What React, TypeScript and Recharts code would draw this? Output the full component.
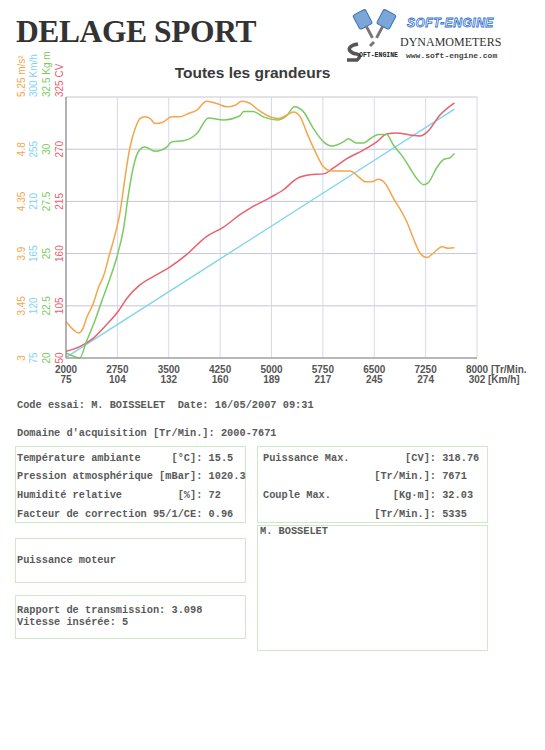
import React from "react";
import { CartesianGrid, Line, LineChart, XAxis, YAxis } from "recharts";

// rpm ticks along the bottom and the road speed printed under each one
const rpmTicks = [2000, 2750, 3500, 4250, 5000, 5750, 6500, 7250, 8000];
const speedTicks = [75, 104, 132, 160, 189, 217, 245, 274, 302];

// left scales (bottom to top)
const cvTicks = [50, 105, 160, 215, 270, 325];
const kgmTicks = [20, 22.5, 25, 27.5, 30, 32.5];
const kmhTicks = [75, 120, 165, 210, 255, 300];
const accTicks = [3, 3.45, 3.9, 4.35, 4.8, 5.25];

// power [CV]
const powerRpm = [2000, 2200, 2400, 2590, 2760, 2890, 3080, 3280, 3520, 3760, 4050, 4300, 4540, 4690, 4980, 5170, 5370, 5560, 5760, 5900, 6100, 6340, 6540, 6680, 6830, 7020, 7170, 7270, 7460, 7671];
const powerCv = [57, 62, 71, 85, 99, 113, 127, 136, 146, 159, 178, 188, 201, 208, 219, 227, 239, 243, 244, 250, 260, 269, 278, 286, 287, 285, 284, 288, 306, 318.76];

// torque [Kg m]
const torqueRpm = [2000, 2110, 2200, 2300, 2400, 2520, 2640, 2740, 2840, 2910, 2980, 3060, 3150, 3300, 3470, 3540, 3710, 3910, 4080, 4300, 4540, 4590, 4735, 4880, 5100, 5220, 5335, 5465, 5610, 5760, 5880, 6050, 6120, 6240, 6340, 6440, 6560, 6680, 6780, 6925, 7020, 7120, 7220, 7290, 7410, 7510, 7610, 7671];
const torqueKgm = [20.24, 20.08, 20.0, 20.8, 21.6, 22.7, 23.8, 24.8, 26.2, 27.8, 29.1, 29.9, 30.1, 29.9, 30.1, 30.35, 30.4, 30.75, 31.5, 31.4, 31.6, 31.8, 31.8, 31.55, 31.4, 31.6, 32.03, 31.8, 31.0, 30.35, 30.15, 30.35, 30.5, 30.3, 30.3, 30.5, 30.7, 30.7, 30.2, 29.6, 29.1, 28.6, 28.3, 28.4, 29.1, 29.5, 29.6, 29.8];

// acceleration [m/s²]
const accRpm = [2000, 2110, 2180, 2250, 2300, 2400, 2470, 2545, 2640, 2715, 2790, 2860, 2930, 3010, 3080, 3150, 3230, 3300, 3420, 3540, 3660, 3790, 3910, 4050, 4200, 4350, 4470, 4565, 4690, 4810, 4930, 5100, 5220, 5320, 5420, 5510, 5640, 5760, 5880, 6050, 6150, 6270, 6370, 6460, 6560, 6660, 6780, 6900, 6975, 7070, 7170, 7270, 7360, 7490, 7580, 7671];
const accMs2 = [3.315, 3.243, 3.215, 3.258, 3.344, 3.473, 3.602, 3.702, 3.903, 4.06, 4.26, 4.548, 4.806, 4.978, 5.064, 5.079, 5.064, 5.021, 5.035, 5.079, 5.079, 5.108, 5.136, 5.214, 5.194, 5.165, 5.179, 5.214, 5.194, 5.136, 5.093, 5.064, 5.093, 5.121, 5.079, 4.949, 4.777, 4.648, 4.611, 4.611, 4.611, 4.562, 4.519, 4.519, 4.54, 4.505, 4.376, 4.26, 4.175, 4.032, 3.903, 3.866, 3.903, 3.96, 3.946, 3.95];

// speed [Km/h]
const speedRpm = [2000, 4000, 6000, 7671];
const speedKmh = [75.5, 151, 226.5, 289.6];

const pts = (xs: number[], ys: number[]) => xs.map((rpm, i) => ({ rpm, v: ys[i] }));

const ORANGE = "#f5a54c";
const BLUE = "#7fd5ef";
const GREEN = "#7acb60";
const RED = "#e8606c";
const SANS = "'Liberation Sans', Arial, sans-serif";
const MONO = "'Liberation Mono', 'Courier New', monospace";

// recharts stacks same-side axes by id, so the ids fix the column order (p1 nearest the plot)
const CV = "p1";
const KGM = "p2";
const KMH = "p3";
const ACC = "p4";

function SideTick(props: any) {
  const { x, y, payload, color, unit, top } = props;
  const cx = x - 6.5;
  const isTop = payload.value === top;
  return (
    <text
      x={cx}
      y={y}
      transform={`rotate(-90 ${cx} ${y})`}
      textAnchor={isTop ? "start" : "middle"}
      dominantBaseline="central"
      fill={color}
      fontSize={10}
      fontFamily={SANS}
    >
      {isTop ? `${payload.value} ${unit}` : String(payload.value)}
    </text>
  );
}

function RpmTick(props: any) {
  const { x, y, payload } = props;
  const i = rpmTicks.indexOf(payload.value);
  const last = i === rpmTicks.length - 1;
  const common = { fill: "#555", fontSize: 10, fontWeight: 700, fontFamily: SANS };
  return (
    <g>
      <text x={x} y={y + 15} textAnchor="middle" {...common}>{payload.value}</text>
      <text x={x} y={y + 25} textAnchor="middle" {...common}>{speedTicks[i]}</text>
      {last && (
        <>
          <text x={x + 14} y={y + 15} {...common}>[Tr/Min.</text>
          <text x={x + 11} y={y + 25} {...common}>[Km/h]</text>
        </>
      )}
    </g>
  );
}

function Box({ left, top, width, height }: any) {
  return (
    <div
      style={{
        position: "absolute",
        left,
        top,
        width,
        height,
        border: "1.5px solid #cfe8c8",
        boxSizing: "border-box",
      }}
    />
  );
}

const txt: React.CSSProperties = {
  position: "absolute",
  fontFamily: MONO,
  fontSize: 10.3,
  fontWeight: 700,
  color: "#5a5a5a",
  whiteSpace: "pre",
  lineHeight: "12px",
  margin: 0,
};

function Logo() {
  return (
    <svg width={205} height={60} style={{ position: "absolute", left: 340, top: 6 }}>
      {/* pistons */}
      <g transform="rotate(-28 24 16)">
        <rect x={17} y={5} width={14} height={16} rx={2} fill="#7aa6d8" stroke="#3f6fb0" />
        <line x1={24} y1={21} x2={24} y2={34} stroke="#777" strokeWidth={3} />
      </g>
      <g transform="rotate(28 45 16)">
        <rect x={38} y={5} width={14} height={16} rx={2} fill="#7aa6d8" stroke="#3f6fb0" />
        <line x1={45} y1={21} x2={45} y2={34} stroke="#777" strokeWidth={3} />
      </g>
      <path d="M34 36 L30 40" stroke="#777" strokeWidth={3} />
      <path d="M18 38 Q7 40 10 45 Q13 48 17 48 Q22 50 17 54 L7 54" fill="none" stroke="#555" strokeWidth={3.5} />
      <text x={19} y={51} fontSize={6.5} fontFamily={MONO} fontWeight={700} fill="#222">OFT-ENGINE</text>
      <text x={67} y={21} fontSize={12} fontStyle="italic" fontWeight={700} fontFamily={SANS} fill="#fff" stroke="#2f6fd0" strokeWidth={0.8} letterSpacing={0.5}>
        SOFT-ENGINE
      </text>
      <text x={60} y={40} fontSize={12} fontFamily="'Liberation Serif', serif" fill="#333">DYNAMOMETERS</text>
      <text x={66} y={52} fontSize={8} fontFamily={MONO} fontWeight={700} fill="#444">www.soft-engine.com</text>
    </svg>
  );
}

export default function App() {
  return (
    <div style={{ position: "absolute", left: 0, top: 0, width: 545, height: 750, background: "#fff" }}>
      <div
        style={{
          position: "absolute",
          left: 16,
          top: 14,
          fontFamily: "'Liberation Serif', 'Times New Roman', serif",
          fontWeight: 700,
          fontSize: 31.5,
          color: "#333",
          letterSpacing: -0.4,
        }}
      >
        DELAGE SPORT
      </div>
      <Logo />
      <div
        style={{
          position: "absolute",
          left: 150,
          width: 205,
          top: 64,
          textAlign: "center",
          fontFamily: SANS,
          fontWeight: 700,
          fontSize: 15.5,
          color: "#3a3a3a",
        }}
      >
        Toutes les grandeurs
      </div>

      <div style={{ position: "absolute", left: 0, top: 40 }}>
        <LineChart width={545} height={360} margin={{ top: 57, right: 68, bottom: 2, left: 15 }}>
          <CartesianGrid yAxisId={CV} vertical={false} stroke="#c6c6d2" strokeWidth={1} />
          <CartesianGrid yAxisId={CV} horizontal={false} stroke="#d6d6f0" strokeWidth={1} />
          <XAxis
            dataKey="rpm"
            type="number"
            domain={[2000, 8000]}
            ticks={rpmTicks}
            interval={0}
            allowDataOverflow
            height={40}
            tickSize={0}
            tickMargin={0}
            tickLine={false}
            axisLine={{ stroke: "#8c8c8c", strokeWidth: 1.2 }}
            tick={(p: any) => <RpmTick {...p} />}
          />
          <YAxis
            yAxisId={CV}
            type="number"
            domain={[50, 325]}
            ticks={cvTicks}
            interval={0}
            width={13}
            tickSize={0}
            tickMargin={0}
            tickLine={false}
            axisLine={{ stroke: "#8c8c8c", strokeWidth: 1.2 }}
            tick={(p: any) => <SideTick {...p} color={RED} unit="CV" top={325} />}
          />
          <YAxis
            yAxisId={KGM}
            type="number"
            domain={[20, 32.5]}
            ticks={kgmTicks}
            interval={0}
            width={13}
            tickSize={0}
            tickMargin={0}
            tickLine={false}
            axisLine={false}
            tick={(p: any) => <SideTick {...p} color={GREEN} unit="Kg m" top={32.5} />}
          />
          <YAxis
            yAxisId={KMH}
            type="number"
            domain={[75, 300]}
            ticks={kmhTicks}
            interval={0}
            width={12}
            tickSize={0}
            tickMargin={0}
            tickLine={false}
            axisLine={false}
            tick={(p: any) => <SideTick {...p} color={BLUE} unit="Km/h" top={300} />}
          />
          <YAxis
            yAxisId={ACC}
            type="number"
            domain={[3, 5.25]}
            ticks={accTicks}
            interval={0}
            width={13}
            tickSize={0}
            tickMargin={0}
            tickLine={false}
            axisLine={false}
            tick={(p: any) => <SideTick {...p} color={ORANGE} unit="m/s²" top={5.25} />}
          />
          <Line yAxisId={KMH} data={pts(speedRpm, speedKmh)} dataKey="v" type="linear" stroke={BLUE} strokeWidth={1.4} dot={false} isAnimationActive={false} />
          <Line yAxisId={CV} data={pts(powerRpm, powerCv)} dataKey="v" type="monotone" stroke={RED} strokeWidth={1.5} dot={false} isAnimationActive={false} />
          <Line yAxisId={KGM} data={pts(torqueRpm, torqueKgm)} dataKey="v" type="monotone" stroke={GREEN} strokeWidth={1.5} dot={false} isAnimationActive={false} />
          <Line yAxisId={ACC} data={pts(accRpm, accMs2)} dataKey="v" type="monotone" stroke={ORANGE} strokeWidth={1.5} dot={false} isAnimationActive={false} />
        </LineChart>
      </div>

      <p style={{ ...txt, left: 17, top: 399 }}>{"Code essai: M. BOISSELET  Date: 16/05/2007 09:31"}</p>
      <p style={{ ...txt, left: 17, top: 427 }}>{"Domaine d'acquisition [Tr/Min.]: 2000-7671"}</p>

      <Box left={15} top={446} width={231} height={77} />
      <p style={{ ...txt, left: 17, top: 448.5, lineHeight: "18.9px" }}>
        {"Température ambiante     [°C]: 15.5\nPression atmosphérique [mBar]: 1020.3\nHumidité relative         [%]: 72\nFacteur de correction 95/1/CE: 0.96"}
      </p>

      <Box left={257} top={446} width={231} height={77} />
      <p style={{ ...txt, left: 263, top: 448.5, lineHeight: "18.9px" }}>
        {"Puissance Max.         [CV]: 318.76\n                  [Tr/Min.]: 7671\nCouple Max.          [Kg·m]: 32.03\n                  [Tr/Min.]: 5335"}
      </p>

      <Box left={257} top={525} width={231} height={126} />
      <p style={{ ...txt, left: 260, top: 525 }}>{"M. BOSSELET"}</p>

      <Box left={15} top={538} width={231} height={45} />
      <p style={{ ...txt, left: 17, top: 554 }}>{"Puissance moteur"}</p>

      <Box left={15} top={595} width={231} height={44} />
      <p style={{ ...txt, left: 17, top: 604 }}>{"Rapport de transmission: 3.098\nVitesse insérée: 5"}</p>
    </div>
  );
}
